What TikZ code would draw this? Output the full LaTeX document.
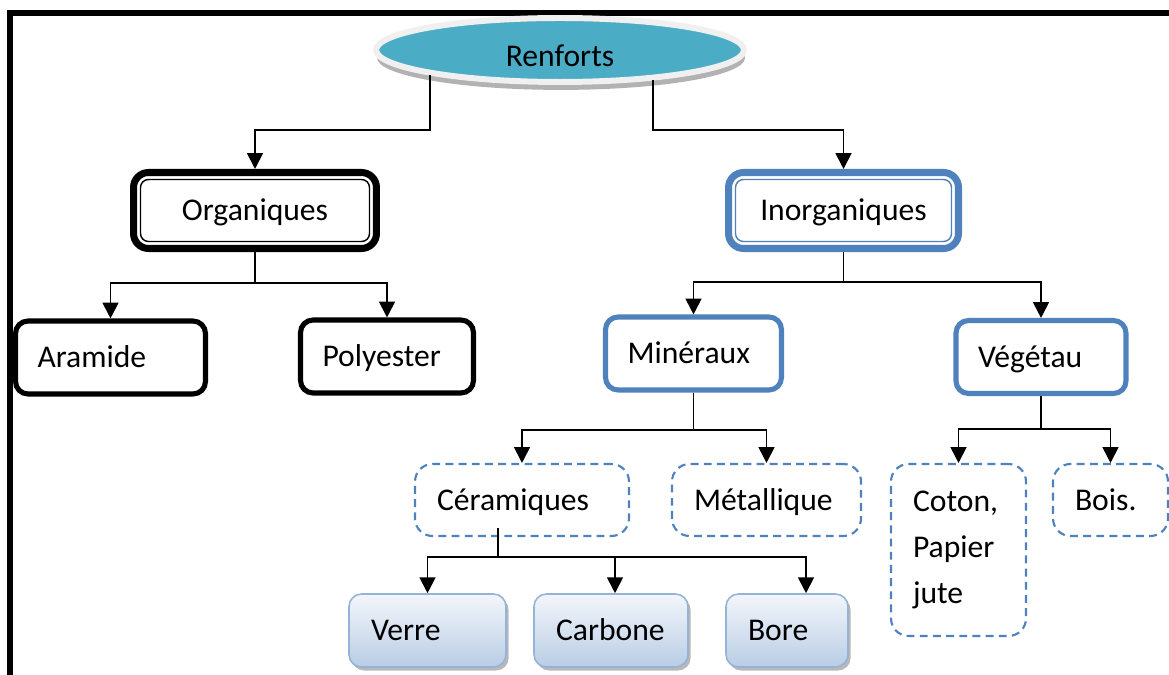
\documentclass[tikz,border=0pt]{standalone}
\usepackage{fontspec}
\setmainfont{Carlito}
\usetikzlibrary{arrows.meta,shapes.geometric,shadows}
\definecolor{renfcol}{HTML}{4BACC6}
\definecolor{accblue}{HTML}{4F81BD}
\definecolor{softblue}{HTML}{95B3D7}
\definecolor{gradtop}{HTML}{F3F6FB}
\definecolor{gradbot}{HTML}{B9CDE5}

\begin{document}
\begin{tikzpicture}[x=0.02cm,y=0.02cm,
    every node/.append style={font=\fontsize{18}{26}\selectfont},
    conn/.style={line width=1.1pt,-{Triangle[length=9pt,width=9pt]}},
    oneline/.style={text height=11.6pt,text depth=0pt},
    topell/.style={ellipse,fill=renfcol,draw=black!6,line width=3.4pt,
      minimum width=7.36cm,minimum height=1.28cm,inner sep=0pt,
      text height=18.4pt,text depth=0pt,
      drop shadow={shadow xshift=0.6pt,shadow yshift=-4.5pt,fill=black!30,opacity=1}},
    mainbox/.style={draw,oneline,rounded corners=0.3cm,line width=4pt,
      minimum width=#1,minimum height=1.52cm,align=center},
    framein/.style={line width=0.8pt,rounded corners=0.16cm},
    leaf/.style={draw,oneline,rounded corners=0.25cm,line width=2.9pt,minimum height=1.46cm,
      inner xsep=0.44cm,inner ysep=2pt,align=left,text width=#1},
    dashbase/.style={draw=accblue,dash pattern=on 4.5pt off 3pt,line width=1.2pt,
      rounded corners=0.35cm,minimum height=1.44cm,
      inner xsep=0.44cm,inner ysep=2pt,align=left,text width=#1},
    dashbox/.style={dashbase=#1,oneline},
    gradbox/.style={draw=softblue,oneline,line width=0.9pt,rounded corners=0.25cm,
      top color=gradtop,bottom color=gradbot,minimum height=1.46cm,
      inner xsep=0.44cm,inner ysep=2pt,align=left,text width=#1,
      drop shadow={shadow xshift=1.5pt,shadow yshift=-2pt,fill=black!28,opacity=1}}]
  \useasboundingbox (0,0) rectangle (1169,-675);
  % frame
  \draw[line width=3.4pt] (10,-690) -- (10,-13) -- (1180,-13);

  % top
  \node[topell] (renf) at (560,-50) {Renforts};

  % first level
  \node[mainbox=4.86cm,draw=black] (org) at (255,-210.5) {Organiques};
  \draw[framein] ([shift={(10.5,-10.5)}]org.north west) rectangle ([shift={(-10.5,10.5)}]org.south east);
  \node[mainbox=4.6cm,draw=accblue] (inorg) at (843.5,-210.5) {Inorganiques};
  \draw[framein,draw=accblue] ([shift={(10.5,-10.5)}]inorg.north west) rectangle ([shift={(-10.5,10.5)}]inorg.south east);

  % second level
  \node[leaf=2.92cm,draw=black] (ara) at (110.5,-357.5) {Aramide};
  \node[leaf=2.58cm,draw=black] (poly) at (387,-356.5) {Polyester};
  \node[leaf=2.64cm,draw=accblue] (min) at (693.5,-353.5) {Minéraux};
  \node[leaf=2.52cm,draw=accblue] (veg) at (1041,-357) {Végétau};

  % third level
  \node[dashbox=3.40cm] (cer) at (522,-500) {Céramiques};
  \node[dashbox=2.90cm] (met) at (766.5,-500) {Métallique};
  \node[dashbase=1.82cm,minimum height=3.44cm] (coton) at (958.5,-550) {Coton,\\Papier\\jute};
  \node[dashbox=1.42cm] (bois) at (1110.5,-500) {Bois.};

  % fourth level
  \node[gradbox=2.26cm] (verre) at (427.5,-630.5) {Verre};
  \node[gradbox=2.20cm] (carb) at (611,-630.5) {Carbone};
  \node[gradbox=1.56cm] (bore) at (787,-630.5) {Bore};

  % connectors
  \draw[conn] (renf.191) -- ++(0,-55) -| (org.north);
  \draw[conn] (renf.342) -- ++(0,-50) -| (inorg.north);
  \draw[conn] (org.south) -- ++(0,-31) coordinate (o1) -| (ara.north);
  \draw[conn] (o1) -| (poly.north);
  \draw[conn] (inorg.south) -- ++(0,-30) coordinate (i1) -| (min.north);
  \draw[conn] (i1) -| (veg.north);
  \draw[conn] (min.south) -- ++(0,-37) coordinate (m1) -| (cer.north);
  \draw[conn] (m1) -| (met.north);
  \draw[conn] (veg.south) -- ++(0,-33) coordinate (v1) -| (coton.north);
  \draw[conn] (v1) -| (bois.north);
  \draw[conn] ([shift={(-24,9)}]cer.south) -- ++(0,-29) coordinate (c1) -| (verre.north);
  \draw[conn] (c1) -| ([shift={(4,0)}]carb.north);
  \draw[conn] (c1) -| ([shift={(19,0)}]bore.north);
\end{tikzpicture}
\end{document}
